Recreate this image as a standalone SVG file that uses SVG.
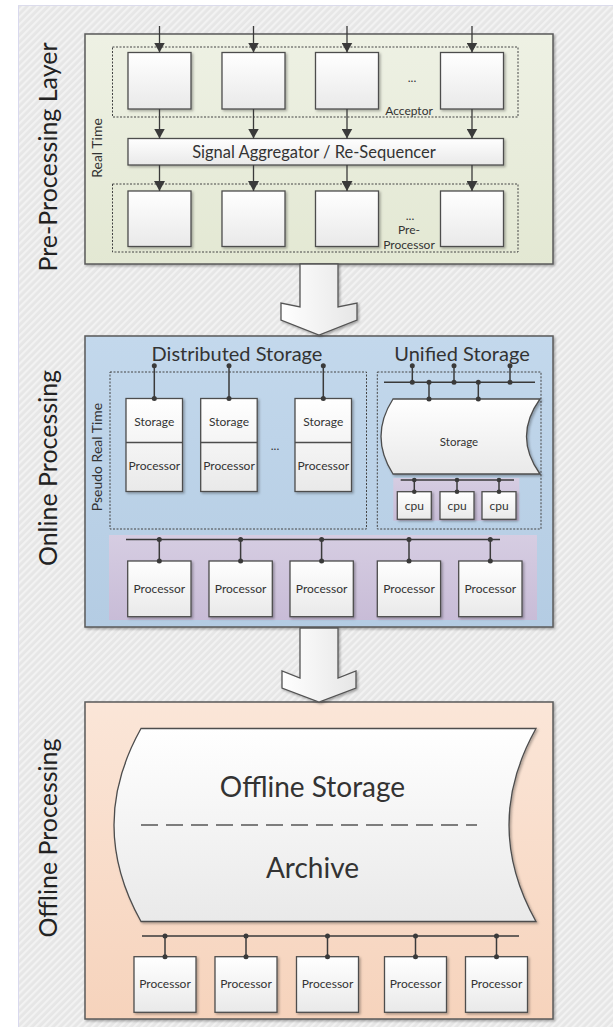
<svg xmlns="http://www.w3.org/2000/svg" width="613" height="1027" viewBox="0 0 613 1027">
<defs>
  <pattern id="hatch" width="5" height="5" patternUnits="userSpaceOnUse" patternTransform="rotate(45)">
    <rect width="5" height="5" fill="#e6e6e6"/>
    <rect width="2.2" height="5" fill="#f2f2f2"/>
  </pattern>
  <linearGradient id="gBox" x1="0" y1="0" x2="0" y2="1">
    <stop offset="0" stop-color="#ffffff"/>
    <stop offset="1" stop-color="#e9e9e9"/>
  </linearGradient>
  <linearGradient id="gBoxH" x1="0" y1="0" x2="1" y2="0">
    <stop offset="0" stop-color="#ffffff"/>
    <stop offset="1" stop-color="#e6e6e6"/>
  </linearGradient>
  <linearGradient id="gGreen" x1="0" y1="0" x2="0" y2="1">
    <stop offset="0" stop-color="#eef1e4"/>
    <stop offset="1" stop-color="#e3e8d3"/>
  </linearGradient>
  <linearGradient id="gBlue" x1="0" y1="0" x2="0" y2="1">
    <stop offset="0" stop-color="#c3d8ec"/>
    <stop offset="1" stop-color="#b4cce3"/>
  </linearGradient>
  <linearGradient id="gPurple" x1="0" y1="0" x2="0" y2="1">
    <stop offset="0" stop-color="#d6cde2"/>
    <stop offset="1" stop-color="#c8bcd7"/>
  </linearGradient>
  <linearGradient id="gPeach" x1="0" y1="0" x2="0" y2="1">
    <stop offset="0" stop-color="#fbe6d8"/>
    <stop offset="1" stop-color="#f6d3bc"/>
  </linearGradient>
  <filter id="shadow" x="-10%" y="-10%" width="130%" height="130%">
    <feDropShadow dx="1.5" dy="1.5" stdDeviation="1" flood-color="#000" flood-opacity="0.3"/>
  </filter>
  <marker id="arrow" markerUnits="userSpaceOnUse" markerWidth="11" markerHeight="11" refX="10" refY="5.5" orient="auto">
    <path d="M0,0 L10,5.5 L0,11 Z" fill="#3a3a3a"/>
  </marker>
  <style>
    .layer { stroke: #5a5a5a; stroke-width: 1.5; }
    .box { fill: url(#gBox); stroke: #4d4d4d; stroke-width: 1.3; filter: url(#shadow); }
    .dash { fill: none; stroke: #444; stroke-width: 1; stroke-dasharray: 2 1.5; }
    .wire { stroke: #3a3a3a; stroke-width: 1.5; fill: none; }
    .flow { stroke: #3a3a3a; stroke-width: 1.3; fill: none; marker-end: url(#arrow); }
    .dot { fill: #3a3a3a; }
    .t { font-family: Lato, "Open Sans", sans-serif; fill: #333; text-anchor: middle; }
    .title { font-size: 25px; fill: #222; }
    .small { font-size: 12px; }
    .big { stroke: #555; stroke-width: 1.3; fill: url(#gBoxH); filter: url(#shadow); }
  </style>
</defs>

<!-- background panel -->
<rect x="18" y="5" width="595" height="1022" fill="url(#hatch)"/>
<line x1="18.5" y1="5" x2="18.5" y2="1027" stroke="#d9d9ee" stroke-width="1"/>
<line x1="18" y1="5.5" x2="613" y2="5.5" stroke="#dcdcec" stroke-width="1"/>

<!-- side titles -->
<text class="t title" transform="translate(57,157) rotate(-90)">Pre-Processing Layer</text>
<text class="t title" transform="translate(57,468) rotate(-90)">Online Processing</text>
<text class="t title" transform="translate(57,838) rotate(-90)">Offline Processing</text>

<!-- ================= Pre-processing layer ================= -->
<g id="preprocessing-layer">
  <rect x="85" y="34" width="468" height="230" fill="url(#gGreen)" class="layer" filter="url(#shadow)"/>
  <text class="t" font-size="14" transform="translate(101.5,148) rotate(-90)">Real Time</text>
</g>

<g id="acceptor-group">
  <rect class="dash" x="112.5" y="47" width="405.5" height="70"/>
  <text class="t" font-size="12" x="412" y="82">...</text>
  <text class="t" font-size="12" x="409" y="115">Acceptor</text>
</g>
<g id="acceptor-1"><rect class="box" x="128" y="52.5" width="63" height="56.5"/></g>
<g id="acceptor-2"><rect class="box" x="222" y="52.5" width="63" height="56.5"/></g>
<g id="acceptor-3"><rect class="box" x="315.5" y="52.5" width="63" height="56.5"/></g>
<g id="acceptor-4"><rect class="box" x="440.5" y="52.5" width="63" height="56.5"/></g>

<g id="aggregator">
  <rect class="box" x="128" y="138.5" width="375.5" height="26.5"/>
  <text class="t" font-size="16.5" x="314" y="157.5">Signal Aggregator / Re-Sequencer</text>
</g>

<g id="preprocessor-group">
  <rect class="dash" x="112.5" y="184" width="405.5" height="68"/>
  <text class="t" font-size="12" x="410" y="220">...</text>
  <text class="t" font-size="12" x="409" y="234">Pre-</text>
  <text class="t" font-size="12" x="409" y="249">Processor</text>
</g>
<g id="preprocessor-1"><rect class="box" x="128" y="191" width="63" height="55.5"/></g>
<g id="preprocessor-2"><rect class="box" x="222" y="191" width="63" height="55.5"/></g>
<g id="preprocessor-3"><rect class="box" x="315.5" y="191" width="63" height="55.5"/></g>
<g id="preprocessor-4"><rect class="box" x="440.5" y="191" width="63" height="55.5"/></g>

<!-- ================= Online processing ================= -->
<g id="online-processing">
  <rect x="85" y="336" width="468" height="291" fill="url(#gBlue)" class="layer" filter="url(#shadow)"/>
  <text class="t" font-size="14" transform="translate(101.5,457) rotate(-90)">Pseudo Real Time</text>
</g>

<g id="distributed-storage">
  <text class="t" font-size="20" x="237" y="361">Distributed Storage</text>
  <rect class="dash" x="110" y="372" width="256.5" height="157"/>
  <text class="t" font-size="12" x="275" y="450">...</text>
</g>
<g id="storage-node-1">
  <rect class="box" x="126" y="398.5" width="56.5" height="93"/>
  <line x1="126" y1="442.5" x2="182.5" y2="442.5" stroke="#4d4d4d" stroke-width="1.3"/>
  <text class="t small" x="154.3" y="425.5">Storage</text>
  <text class="t small" x="154.3" y="469.5">Processor</text>
</g>
<g id="storage-node-2">
  <rect class="box" x="200.7" y="398.5" width="56.5" height="93"/>
  <line x1="200.7" y1="442.5" x2="257.2" y2="442.5" stroke="#4d4d4d" stroke-width="1.3"/>
  <text class="t small" x="229" y="425.5">Storage</text>
  <text class="t small" x="229" y="469.5">Processor</text>
</g>
<g id="storage-node-3">
  <rect class="box" x="295" y="398.5" width="56.5" height="93"/>
  <line x1="295" y1="442.5" x2="351.5" y2="442.5" stroke="#4d4d4d" stroke-width="1.3"/>
  <text class="t small" x="323.3" y="425.5">Storage</text>
  <text class="t small" x="323.3" y="469.5">Processor</text>
</g>

<g id="unified-storage">
  <text class="t" font-size="20" x="462" y="361">Unified Storage</text>
  <rect class="dash" x="377.3" y="372" width="163.7" height="157"/>
</g>
<g id="unified-storage-device">
  <path d="M393,399 L540,399 Q513,436.5 540,474 L393,474 Q369,436.5 393,399 Z" fill="url(#gBox)" stroke="#4d4d4d" stroke-width="1.3" filter="url(#shadow)"/>
  <text class="t" font-size="11.5" x="459" y="445.5">Storage</text>
</g>
<g id="cpu-band">
  <rect x="393.3" y="478" width="126" height="42.7" fill="url(#gPurple)"/>
</g>
<g id="cpu-1"><rect class="box" x="397.3" y="491.7" width="34" height="27.6"/><text class="t small" x="414.3" y="509.5">cpu</text></g>
<g id="cpu-2"><rect class="box" x="440" y="491.7" width="34" height="27.6"/><text class="t small" x="457" y="509.5">cpu</text></g>
<g id="cpu-3"><rect class="box" x="482" y="491.7" width="34" height="27.6"/><text class="t small" x="499" y="509.5">cpu</text></g>

<g id="online-processor-band">
  <rect x="109" y="535" width="428" height="85" fill="url(#gPurple)"/>
</g>
<g id="online-processor-1"><rect class="box" x="127.7" y="561" width="63.3" height="55.7"/><text class="t small" x="159.3" y="592.5">Processor</text></g>
<g id="online-processor-2"><rect class="box" x="209" y="561" width="63.3" height="55.7"/><text class="t small" x="240.6" y="592.5">Processor</text></g>
<g id="online-processor-3"><rect class="box" x="290" y="561" width="63.3" height="55.7"/><text class="t small" x="321.6" y="592.5">Processor</text></g>
<g id="online-processor-4"><rect class="box" x="377.3" y="561" width="63.3" height="55.7"/><text class="t small" x="409" y="592.5">Processor</text></g>
<g id="online-processor-5"><rect class="box" x="458.7" y="561" width="63.3" height="55.7"/><text class="t small" x="490.3" y="592.5">Processor</text></g>

<!-- ================= Offline processing ================= -->
<g id="offline-processing">
  <rect x="85" y="702" width="468" height="317" fill="url(#gPeach)" class="layer" filter="url(#shadow)"/>
</g>
<g id="offline-storage">
  <path d="M141,728.5 L536,728.5 Q482,825 536,921.5 L141,921.5 Q87,825 141,728.5 Z" fill="url(#gBox)" stroke="#4d4d4d" stroke-width="1.3" filter="url(#shadow)"/>
  <text class="t" font-size="28" fill="#222" x="312.5" y="797">Offline Storage</text>
  <line x1="141" y1="825" x2="477" y2="825" stroke="#555" stroke-width="1.5" stroke-dasharray="17 8"/>
  <text class="t" font-size="28" fill="#222" x="312.5" y="878">Archive</text>
</g>
<g id="offline-processor-1"><rect class="box" x="134" y="956.7" width="62" height="55.6"/><text class="t small" x="165" y="987.5">Processor</text></g>
<g id="offline-processor-2"><rect class="box" x="215" y="956.7" width="62" height="55.6"/><text class="t small" x="246" y="987.5">Processor</text></g>
<g id="offline-processor-3"><rect class="box" x="296.5" y="956.7" width="62" height="55.6"/><text class="t small" x="327.5" y="987.5">Processor</text></g>
<g id="offline-processor-4"><rect class="box" x="384.5" y="956.7" width="62" height="55.6"/><text class="t small" x="415.5" y="987.5">Processor</text></g>
<g id="offline-processor-5"><rect class="box" x="465.5" y="956.7" width="62" height="55.6"/><text class="t small" x="496.5" y="987.5">Processor</text></g>

<!-- ================= Connectors ================= -->
<g id="connectors">
  <!-- inputs into acceptors -->
  <line class="flow" x1="159.5" y1="26" x2="159.5" y2="52.5"/>
  <line class="flow" x1="253.5" y1="26" x2="253.5" y2="52.5"/>
  <line class="flow" x1="347" y1="26" x2="347" y2="52.5"/>
  <line class="flow" x1="472" y1="26" x2="472" y2="52.5"/>
  <!-- acceptors to aggregator -->
  <line class="flow" x1="159.5" y1="109" x2="159.5" y2="138.5"/>
  <line class="flow" x1="253.5" y1="109" x2="253.5" y2="138.5"/>
  <line class="flow" x1="347" y1="109" x2="347" y2="138.5"/>
  <line class="flow" x1="472" y1="109" x2="472" y2="138.5"/>
  <!-- aggregator to pre-processors -->
  <line class="flow" x1="159.5" y1="165" x2="159.5" y2="191"/>
  <line class="flow" x1="253.5" y1="165" x2="253.5" y2="191"/>
  <line class="flow" x1="347" y1="165" x2="347" y2="191"/>
  <line class="flow" x1="472" y1="165" x2="472" y2="191"/>

  <!-- big block arrows between layers -->
  <path class="big" d="M300,264 L338,264 L338,307 L357,303 L357,320 L319,335 L281,320 L281,303 L300,307 Z"/>
  <path class="big" d="M300,628 L338,628 L338,678 L356,671 L356,688 L319,702 L282,688 L282,671 L300,678 Z"/>

  <!-- distributed storage stubs -->
  <line class="wire" x1="154.3" y1="365.7" x2="154.3" y2="398.5"/>
  <line class="wire" x1="229" y1="365.7" x2="229" y2="398.5"/>
  <line class="wire" x1="323.3" y1="365.7" x2="323.3" y2="398.5"/>
  <circle class="dot" cx="154.3" cy="365.7" r="2.5"/><circle class="dot" cx="154.3" cy="398.5" r="2.5"/>
  <circle class="dot" cx="229" cy="365.7" r="2.5"/><circle class="dot" cx="229" cy="398.5" r="2.5"/>
  <circle class="dot" cx="323.3" cy="365.7" r="2.5"/><circle class="dot" cx="323.3" cy="398.5" r="2.5"/>

  <!-- unified storage bus -->
  <line class="wire" x1="384" y1="382.3" x2="535" y2="382.3"/>
  <line class="wire" x1="412.3" y1="365.7" x2="412.3" y2="382.3"/>
  <line class="wire" x1="454" y1="365.7" x2="454" y2="382.3"/>
  <line class="wire" x1="510" y1="365.7" x2="510" y2="382.3"/>
  <line class="wire" x1="429" y1="382.3" x2="429" y2="399"/>
  <line class="wire" x1="478.3" y1="382.3" x2="478.3" y2="399"/>
  <circle class="dot" cx="412.3" cy="365.7" r="2.5"/><circle class="dot" cx="412.3" cy="382.3" r="2.5"/>
  <circle class="dot" cx="454" cy="365.7" r="2.5"/><circle class="dot" cx="454" cy="382.3" r="2.5"/>
  <circle class="dot" cx="510" cy="365.7" r="2.5"/><circle class="dot" cx="510" cy="382.3" r="2.5"/>
  <circle class="dot" cx="429" cy="382.3" r="2.5"/><circle class="dot" cx="429" cy="399" r="2.5"/>
  <circle class="dot" cx="478.3" cy="382.3" r="2.5"/><circle class="dot" cx="478.3" cy="399" r="2.5"/>

  <!-- cpu bus -->
  <line class="wire" x1="400.7" y1="480" x2="514" y2="480"/>
  <line class="wire" x1="414.3" y1="480" x2="414.3" y2="491.7"/>
  <line class="wire" x1="457" y1="480" x2="457" y2="491.7"/>
  <line class="wire" x1="499" y1="480" x2="499" y2="491.7"/>
  <circle class="dot" cx="414.3" cy="480" r="2.3"/><circle class="dot" cx="414.3" cy="491.7" r="2.3"/>
  <circle class="dot" cx="457" cy="480" r="2.3"/><circle class="dot" cx="457" cy="491.7" r="2.3"/>
  <circle class="dot" cx="499" cy="480" r="2.3"/><circle class="dot" cx="499" cy="491.7" r="2.3"/>

  <!-- online processor bus -->
  <line class="wire" x1="126" y1="539.5" x2="500" y2="539.5"/>
  <line class="wire" x1="159.3" y1="539.5" x2="159.3" y2="561"/>
  <line class="wire" x1="240.6" y1="539.5" x2="240.6" y2="561"/>
  <line class="wire" x1="321.6" y1="539.5" x2="321.6" y2="561"/>
  <line class="wire" x1="409" y1="539.5" x2="409" y2="561"/>
  <line class="wire" x1="490.3" y1="539.5" x2="490.3" y2="561"/>
  <circle class="dot" cx="159.3" cy="539.5" r="2.5"/><circle class="dot" cx="159.3" cy="561" r="2.5"/>
  <circle class="dot" cx="240.6" cy="539.5" r="2.5"/><circle class="dot" cx="240.6" cy="561" r="2.5"/>
  <circle class="dot" cx="321.6" cy="539.5" r="2.5"/><circle class="dot" cx="321.6" cy="561" r="2.5"/>
  <circle class="dot" cx="409" cy="539.5" r="2.5"/><circle class="dot" cx="409" cy="561" r="2.5"/>
  <circle class="dot" cx="490.3" cy="539.5" r="2.5"/><circle class="dot" cx="490.3" cy="561" r="2.5"/>

  <!-- offline processor bus -->
  <line class="wire" x1="142" y1="936" x2="519" y2="936"/>
  <line class="wire" x1="165" y1="936" x2="165" y2="956.7"/>
  <line class="wire" x1="246" y1="936" x2="246" y2="956.7"/>
  <line class="wire" x1="327.5" y1="936" x2="327.5" y2="956.7"/>
  <line class="wire" x1="415.5" y1="936" x2="415.5" y2="956.7"/>
  <line class="wire" x1="496.5" y1="936" x2="496.5" y2="956.7"/>
  <circle class="dot" cx="165" cy="936" r="2.5"/><circle class="dot" cx="165" cy="956.7" r="2.5"/>
  <circle class="dot" cx="246" cy="936" r="2.5"/><circle class="dot" cx="246" cy="956.7" r="2.5"/>
  <circle class="dot" cx="327.5" cy="936" r="2.5"/><circle class="dot" cx="327.5" cy="956.7" r="2.5"/>
  <circle class="dot" cx="415.5" cy="936" r="2.5"/><circle class="dot" cx="415.5" cy="956.7" r="2.5"/>
  <circle class="dot" cx="496.5" cy="936" r="2.5"/><circle class="dot" cx="496.5" cy="956.7" r="2.5"/>
</g>
</svg>
